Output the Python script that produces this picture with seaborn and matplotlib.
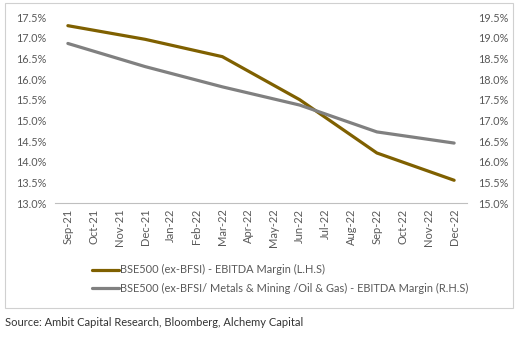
import matplotlib
matplotlib.use("Agg")
import matplotlib.pyplot as plt
from matplotlib.patches import Rectangle
import seaborn as sns
import pandas as pd

months = ["Sep-21", "Oct-21", "Nov-21", "Dec-21", "Jan-22", "Feb-22", "Mar-22", "Apr-22",
          "May-22", "Jun-22", "Jul-22", "Aug-22", "Sep-22", "Oct-22", "Nov-22", "Dec-22"]
quarters = ["Sep-21", "Dec-21", "Mar-22", "Jun-22", "Sep-22", "Dec-22"]
margin_ex_bfsi = [17.29, 16.96, 16.54, 15.50, 14.21, 13.55]          # L.H.S, %
margin_ex_bfsi_metals_oil = [18.86, 18.30, 17.81, 17.37, 16.72, 16.45]  # R.H.S, %

label_lhs = "BSE500 (ex-BFSI) - EBITDA Margin (L.H.S)"
label_rhs = "BSE500 (ex-BFSI/ Metals & Mining /Oil & Gas) - EBITDA Margin (R.H.S)"

GOLD = "#7f6000"
GREY = "#808080"
TEXT = "#595959"

sns.set_theme(style="white")
plt.rcParams["font.family"] = ["Lato", "DejaVu Sans"]

df = pd.DataFrame({
    "pos": [months.index(q) for q in quarters],
    "lhs": margin_ex_bfsi,
    "rhs": margin_ex_bfsi_metals_oil,
})

fig = plt.figure(figsize=(5.2, 3.49), dpi=100)
ax = fig.add_axes([55 / 520, 1 - 203 / 349, 412 / 520, 186 / 349])
ax2 = ax.twinx()

sns.lineplot(data=df, x="pos", y="lhs", ax=ax, color=GOLD, linewidth=2.3, label=label_lhs, legend=False)
sns.lineplot(data=df, x="pos", y="rhs", ax=ax2, color=GREY, linewidth=2.3, label=label_rhs, legend=False)

ax.set_xlim(-0.5, len(months) - 0.5)
ax.set_ylim(13.0, 17.5)
ax2.set_ylim(15.0, 19.5)
lt = [13.0 + 0.5 * i for i in range(10)]
rt = [15.0 + 0.5 * i for i in range(10)]
ax.set_yticks(lt)
ax.set_yticklabels([f"{v:.1f}%" for v in lt])
ax2.set_yticks(rt)
ax2.set_yticklabels([f"{v:.1f}%" for v in rt])

ax.set_xticks(range(len(months)))
ax.set_xticklabels(months, rotation=90)
ax.set_xticks([i - 0.5 for i in range(len(months) + 1)], minor=True)
ax.tick_params(axis="x", which="major", length=0, pad=4, labelsize=8, labelcolor=TEXT)
ax.tick_params(axis="x", which="minor", length=3, width=0.8, color="#bfbfbf", direction="out")
ax.tick_params(axis="y", length=0, pad=6, labelsize=7.8, labelcolor=TEXT)
ax2.tick_params(axis="y", length=0, pad=8, labelsize=7.8, labelcolor=TEXT)

for a in (ax, ax2):
    a.set_xlabel("")
    a.set_ylabel("")
    for side in ("top", "left", "right", "bottom"):
        a.spines[side].set_visible(False)
ax.spines["bottom"].set_visible(True)
ax.spines["bottom"].set_color("#bfbfbf")
ax.spines["bottom"].set_linewidth(0.8)
ax.grid(False)
ax2.grid(False)

h1, l1 = ax.get_legend_handles_labels()
h2, l2 = ax2.get_legend_handles_labels()
fig.legend(h1 + h2, l1 + l2, loc="center left", bbox_to_anchor=(88 / 520, 1 - 279 / 349),
           frameon=False, fontsize=7.9, labelcolor=TEXT, handlelength=2.4, handletextpad=0.1,
           labelspacing=0.65, borderaxespad=0)

fig.patches.append(Rectangle((5 / 520, 1 - 308 / 349), 508 / 520, 305 / 349, transform=fig.transFigure,
                             fill=False, edgecolor="#d0d0d0", linewidth=0.8))
fig.text(5 / 520, 1 - 322 / 349, "Source: Ambit Capital Research, Bloomberg, Alchemy Capital",
         fontsize=8.0, color="#333333", va="center", ha="left")

fig.savefig("out.png", dpi=100)
